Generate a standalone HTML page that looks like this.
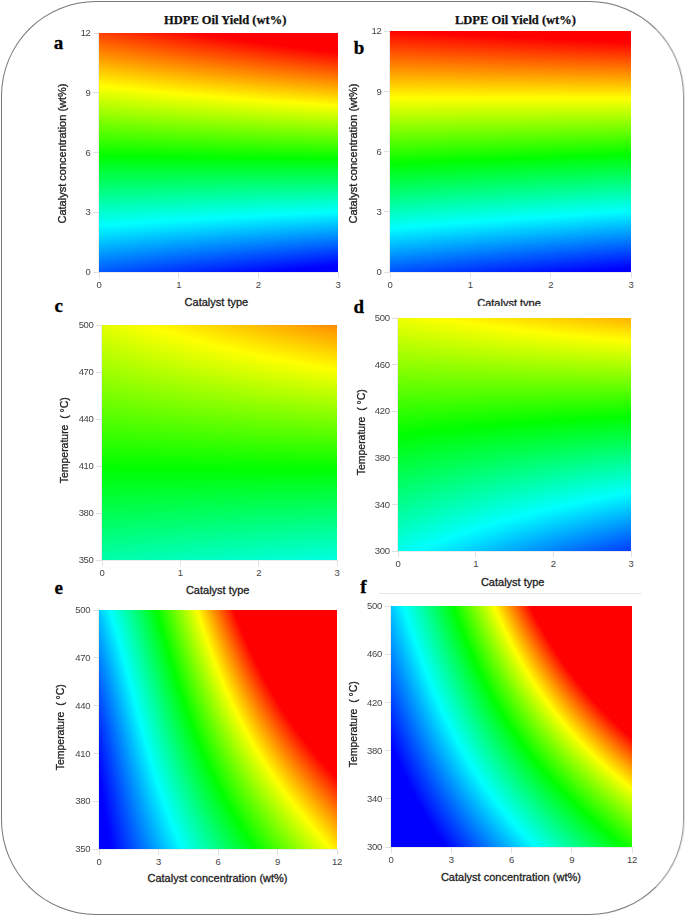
<!DOCTYPE html>
<html><head><meta charset="utf-8">
<style>
html,body{margin:0;padding:0;background:#fff;}
body{width:685px;height:916px;position:relative;overflow:hidden;font-family:"Liberation Sans",sans-serif;}
.frame{position:absolute;left:1px;top:1px;width:681px;height:912px;border:1px solid #777;border-right-color:#999;border-radius:95px;box-shadow:1px 0 0 #e0e0e0;}
.t{position:absolute;white-space:nowrap;line-height:1;}
.title{font-family:"Liberation Serif",serif;font-weight:bold;font-size:12.5px;color:#111;-webkit-text-stroke:0.25px #111;}
.lab{font-family:"Liberation Serif",serif;font-weight:bold;font-size:19px;color:#000;-webkit-text-stroke:0.3px #000;}
.tk{font-size:9.5px;color:#444;letter-spacing:-0.3px;}
.tr{text-align:right;width:30px;}
.tc{text-align:center;width:30px;}
.ax{font-size:11px;color:#222;-webkit-text-stroke:0.3px #222;}
.axc{text-align:center;width:200px;}
.rot{transform:rotate(-90deg);transform-origin:center center;}
.sq{display:inline-block;transform:scaleX(0.95);}
canvas{position:absolute;display:block;}
.ln{position:absolute;background:#e0e0e0;}
.al{position:absolute;background:#ebebeb;}
</style></head><body>
<div class="frame"></div>

<div class="t title" style="left:164px;top:13.5px">HDPE Oil Yield (wt%)</div>
<div class="t title" style="left:455px;top:13.5px">LDPE Oil Yield (wt%)</div>
<div class="t lab" style="left:53.8px;top:32.5px">a</div>
<div class="t lab" style="left:353.75px;top:37.8px">b</div>
<div class="t lab" style="left:54.4px;top:295.7px">c</div>
<div class="t lab" style="left:353.4px;top:296.5px">d</div>
<div class="t lab" style="left:54.5px;top:577.8px">e</div>
<div class="t lab" style="left:360.2px;top:577.3px">f</div>
<canvas id="pa" width="239" height="239" style="left:99px;top:33px;width:239px;height:239px;background:linear-gradient(1.0deg,#001dff 0.0%,#003eff 4.2%,#0068ff 8.3%,#0093ff 12.5%,#00beff 16.7%,#00e8ff 20.8%,#00ffeb 25.0%,#00ffc1 29.2%,#00ff96 33.3%,#00ff6b 37.5%,#00ff40 41.7%,#00ff16 45.8%,#15ff00 50.0%,#40ff00 54.2%,#6bff00 58.3%,#95ff00 62.5%,#c0ff00 66.7%,#ebff00 70.8%,#ffe800 75.0%,#ffbd00 79.2%,#ff9200 83.3%,#ff6700 87.5%,#ff3d00 91.7%,#ff1200 95.8%,#ff0000 100.0%)"></canvas>
<div class="al" style="left:98px;top:33px;width:1px;height:240px"></div>
<div class="al" style="left:98px;top:272px;width:240px;height:1px"></div>
<div class="ln" style="left:93px;top:271.5px;width:6px;height:1px"></div>
<div class="t tk tr" style="left:60.6px;top:267.2px">0</div>
<div class="ln" style="left:93px;top:211.8px;width:6px;height:1px"></div>
<div class="t tk tr" style="left:60.6px;top:207.4px">3</div>
<div class="ln" style="left:93px;top:152.0px;width:6px;height:1px"></div>
<div class="t tk tr" style="left:60.6px;top:147.7px">6</div>
<div class="ln" style="left:93px;top:92.2px;width:6px;height:1px"></div>
<div class="t tk tr" style="left:60.6px;top:88.0px">9</div>
<div class="ln" style="left:93px;top:32.5px;width:6px;height:1px"></div>
<div class="t tk tr" style="left:60.6px;top:28.2px">12</div>
<div class="ln" style="left:98.5px;top:272px;width:1px;height:6px"></div>
<div class="t tk tc" style="left:84.0px;top:280px">0</div>
<div class="ln" style="left:178.2px;top:272px;width:1px;height:6px"></div>
<div class="t tk tc" style="left:163.7px;top:280px">1</div>
<div class="ln" style="left:257.8px;top:272px;width:1px;height:6px"></div>
<div class="t tk tc" style="left:243.3px;top:280px">2</div>
<div class="ln" style="left:337.5px;top:272px;width:1px;height:6px"></div>
<div class="t tk tc" style="left:323.0px;top:280px">3</div>
<div class="t ax axc rot" style="left:-38.3px;top:148.0px">Catalyst concentration (wt%)</div>
<div class="t ax axc" style="left:116.4px;top:296.5px">Catalyst type</div>
<canvas id="pb" width="241" height="241" style="left:390px;top:31px;width:241px;height:241px;background:linear-gradient(-1.7deg,#001dff 0.0%,#003cff 4.2%,#0068ff 8.3%,#0093ff 12.5%,#00c0ff 16.7%,#00ebff 20.8%,#00ffe7 25.0%,#00ffbb 29.2%,#00ff8f 33.3%,#00ff63 37.5%,#00ff38 41.7%,#00ff0c 45.8%,#20ff00 50.0%,#4bff00 54.2%,#77ff00 58.3%,#a2ff00 62.5%,#cdff00 66.7%,#f8ff00 70.8%,#ffda00 75.0%,#ffaf00 79.2%,#ff8400 83.3%,#ff5900 87.5%,#ff2e00 91.7%,#ff0300 95.8%,#ff0000 100.0%)"></canvas>
<div class="al" style="left:389px;top:31px;width:1px;height:242px"></div>
<div class="al" style="left:389px;top:272px;width:242px;height:1px"></div>
<div class="ln" style="left:384px;top:271.5px;width:6px;height:1px"></div>
<div class="t tk tr" style="left:351.4px;top:267.2px">0</div>
<div class="ln" style="left:384px;top:211.2px;width:6px;height:1px"></div>
<div class="t tk tr" style="left:351.4px;top:206.9px">3</div>
<div class="ln" style="left:384px;top:151.0px;width:6px;height:1px"></div>
<div class="t tk tr" style="left:351.4px;top:146.7px">6</div>
<div class="ln" style="left:384px;top:90.8px;width:6px;height:1px"></div>
<div class="t tk tr" style="left:351.4px;top:86.5px">9</div>
<div class="ln" style="left:384px;top:30.5px;width:6px;height:1px"></div>
<div class="t tk tr" style="left:351.4px;top:26.2px">12</div>
<div class="ln" style="left:389.5px;top:272px;width:1px;height:6px"></div>
<div class="t tk tc" style="left:375.0px;top:280px">0</div>
<div class="ln" style="left:469.8px;top:272px;width:1px;height:6px"></div>
<div class="t tk tc" style="left:455.3px;top:280px">1</div>
<div class="ln" style="left:550.2px;top:272px;width:1px;height:6px"></div>
<div class="t tk tc" style="left:535.7px;top:280px">2</div>
<div class="ln" style="left:630.5px;top:272px;width:1px;height:6px"></div>
<div class="t tk tc" style="left:616.0px;top:280px">3</div>
<div class="t ax axc rot" style="left:253.3px;top:148.1px">Catalyst concentration (wt%)</div>
<div style="position:absolute;left:409.0px;top:297.0px;width:200px;height:8.8px;overflow:hidden"><div class="t ax axc" style="left:0;top:1px">Catalyst type</div></div>
<canvas id="pc" width="235" height="235" style="left:102px;top:325px;width:235px;height:235px;background:linear-gradient(3.6deg,#00ffc5 0.0%,#00ffb4 4.2%,#00ffa9 8.3%,#00ff93 12.5%,#00ff7b 16.7%,#00ff65 20.8%,#00ff4f 25.0%,#00ff38 29.2%,#00ff22 33.3%,#00ff0c 37.5%,#0aff00 41.7%,#20ff00 45.8%,#37ff00 50.0%,#4cff00 54.2%,#62ff00 58.3%,#78ff00 62.5%,#8eff00 66.7%,#a3ff00 70.8%,#b9ff00 75.0%,#cfff00 79.2%,#e5ff00 83.3%,#f9ff00 87.5%,#ffef00 91.7%,#ffcb00 95.8%,#ffce00 100.0%)"></canvas>
<div class="al" style="left:101px;top:325px;width:1px;height:236px"></div>
<div class="al" style="left:101px;top:560px;width:236px;height:1px"></div>
<div class="ln" style="left:96px;top:559.5px;width:6px;height:1px"></div>
<div class="t tk tr" style="left:63.6px;top:555.2px">350</div>
<div class="ln" style="left:96px;top:512.5px;width:6px;height:1px"></div>
<div class="t tk tr" style="left:63.6px;top:508.2px">380</div>
<div class="ln" style="left:96px;top:465.5px;width:6px;height:1px"></div>
<div class="t tk tr" style="left:63.6px;top:461.2px">410</div>
<div class="ln" style="left:96px;top:418.5px;width:6px;height:1px"></div>
<div class="t tk tr" style="left:63.6px;top:414.2px">440</div>
<div class="ln" style="left:96px;top:371.5px;width:6px;height:1px"></div>
<div class="t tk tr" style="left:63.6px;top:367.2px">470</div>
<div class="ln" style="left:96px;top:324.5px;width:6px;height:1px"></div>
<div class="t tk tr" style="left:63.6px;top:320.2px">500</div>
<div class="ln" style="left:101.5px;top:560px;width:1px;height:6px"></div>
<div class="t tk tc" style="left:87.0px;top:568px">0</div>
<div class="ln" style="left:179.8px;top:560px;width:1px;height:6px"></div>
<div class="t tk tc" style="left:165.3px;top:568px">1</div>
<div class="ln" style="left:258.2px;top:560px;width:1px;height:6px"></div>
<div class="t tk tc" style="left:243.7px;top:568px">2</div>
<div class="ln" style="left:336.5px;top:560px;width:1px;height:6px"></div>
<div class="t tk tc" style="left:322.0px;top:568px">3</div>
<div class="t ax axc rot" style="left:-35.8px;top:435.0px"><span class="sq">Temperature&nbsp;&nbsp;( °C)</span></div>
<div class="t ax axc" style="left:117.7px;top:585.1px">Catalyst type</div>
<canvas id="pd" width="233" height="233" style="left:398px;top:318px;width:233px;height:233px;background:linear-gradient(-5.5deg,#009bff 0.0%,#007eff 4.2%,#00c1ff 8.3%,#00e0ff 12.5%,#00fcff 16.7%,#00ffe4 20.8%,#00ffc7 25.0%,#00ffaa 29.2%,#00ff8d 33.3%,#00ff71 37.5%,#00ff54 41.7%,#00ff37 45.8%,#00ff1b 50.0%,#02ff00 54.2%,#1fff00 58.3%,#3cff00 62.5%,#59ff00 66.7%,#76ff00 70.8%,#92ff00 75.0%,#afff00 79.2%,#cbff00 83.3%,#e9ff00 87.5%,#fffb00 91.7%,#f9ff00 95.8%,#ffe500 100.0%)"></canvas>
<div class="al" style="left:397px;top:318px;width:1px;height:234px"></div>
<div class="al" style="left:397px;top:551px;width:234px;height:1px"></div>
<div class="ln" style="left:392px;top:550.5px;width:6px;height:1px"></div>
<div class="t tk tr" style="left:359.8px;top:546.2px">300</div>
<div class="ln" style="left:392px;top:503.9px;width:6px;height:1px"></div>
<div class="t tk tr" style="left:359.8px;top:499.6px">340</div>
<div class="ln" style="left:392px;top:457.3px;width:6px;height:1px"></div>
<div class="t tk tr" style="left:359.8px;top:453.0px">380</div>
<div class="ln" style="left:392px;top:410.7px;width:6px;height:1px"></div>
<div class="t tk tr" style="left:359.8px;top:406.4px">420</div>
<div class="ln" style="left:392px;top:364.1px;width:6px;height:1px"></div>
<div class="t tk tr" style="left:359.8px;top:359.8px">460</div>
<div class="ln" style="left:392px;top:317.5px;width:6px;height:1px"></div>
<div class="t tk tr" style="left:359.8px;top:313.2px">500</div>
<div class="ln" style="left:397.5px;top:551px;width:1px;height:6px"></div>
<div class="t tk tc" style="left:383.0px;top:559px">0</div>
<div class="ln" style="left:475.2px;top:551px;width:1px;height:6px"></div>
<div class="t tk tc" style="left:460.7px;top:559px">1</div>
<div class="ln" style="left:552.8px;top:551px;width:1px;height:6px"></div>
<div class="t tk tc" style="left:538.3px;top:559px">2</div>
<div class="ln" style="left:630.5px;top:551px;width:1px;height:6px"></div>
<div class="t tk tc" style="left:616.0px;top:559px">3</div>
<div class="t ax axc rot" style="left:261.0px;top:426.8px"><span class="sq">Temperature&nbsp;&nbsp;( °C)</span></div>
<div class="t ax axc" style="left:412.7px;top:576.6px">Catalyst type</div>
<canvas id="pe" width="238" height="239" style="left:99px;top:610px;width:238px;height:239px;background:linear-gradient(67.1deg,#0000ff 0.0%,#0000ff 4.2%,#001eff 8.3%,#0049ff 12.5%,#0074ff 16.7%,#00a5ff 20.8%,#00d9ff 25.0%,#00ffef 29.2%,#00ffaf 33.3%,#00ff6b 37.5%,#00ff29 41.7%,#1dff00 45.8%,#62ff00 50.0%,#a7ff00 54.2%,#ecff00 58.3%,#ffc900 62.5%,#ff8400 66.7%,#ff3700 70.8%,#ff0000 75.0%,#ff0000 79.2%,#ff0000 83.3%,#ff0000 87.5%,#ff0000 91.7%,#ff0000 95.8%,#ff0000 100.0%)"></canvas>
<div class="al" style="left:98px;top:610px;width:1px;height:240px"></div>
<div class="al" style="left:98px;top:849px;width:239px;height:1px"></div>
<div class="ln" style="left:93px;top:848.5px;width:6px;height:1px"></div>
<div class="t tk tr" style="left:60.3px;top:844.2px">350</div>
<div class="ln" style="left:93px;top:800.7px;width:6px;height:1px"></div>
<div class="t tk tr" style="left:60.3px;top:796.4px">380</div>
<div class="ln" style="left:93px;top:752.9px;width:6px;height:1px"></div>
<div class="t tk tr" style="left:60.3px;top:748.6px">410</div>
<div class="ln" style="left:93px;top:705.1px;width:6px;height:1px"></div>
<div class="t tk tr" style="left:60.3px;top:700.8px">440</div>
<div class="ln" style="left:93px;top:657.3px;width:6px;height:1px"></div>
<div class="t tk tr" style="left:60.3px;top:653.0px">470</div>
<div class="ln" style="left:93px;top:609.5px;width:6px;height:1px"></div>
<div class="t tk tr" style="left:60.3px;top:605.2px">500</div>
<div class="ln" style="left:98.5px;top:849px;width:1px;height:6px"></div>
<div class="t tk tc" style="left:84.0px;top:857px">0</div>
<div class="ln" style="left:158.0px;top:849px;width:1px;height:6px"></div>
<div class="t tk tc" style="left:143.5px;top:857px">3</div>
<div class="ln" style="left:217.5px;top:849px;width:1px;height:6px"></div>
<div class="t tk tc" style="left:203.0px;top:857px">6</div>
<div class="ln" style="left:277.0px;top:849px;width:1px;height:6px"></div>
<div class="t tk tc" style="left:262.5px;top:857px">9</div>
<div class="ln" style="left:336.5px;top:849px;width:1px;height:6px"></div>
<div class="t tk tc" style="left:322.0px;top:857px">12</div>
<div class="t ax axc rot" style="left:-40.2px;top:722.4px"><span class="sq">Temperature&nbsp;&nbsp;( °C)</span></div>
<div class="t ax axc" style="left:117.5px;top:873.1px">Catalyst concentration (wt%)</div>
<canvas id="pf" width="241" height="241" style="left:391px;top:606px;width:241px;height:241px;background:linear-gradient(56.9deg,#0000ff 0.0%,#0000ff 4.2%,#0000ff 8.3%,#0000ff 12.5%,#0019ff 16.7%,#004aff 20.8%,#007aff 25.0%,#00aeff 29.2%,#00e0ff 33.3%,#00ffe7 37.5%,#00ffac 41.7%,#00ff68 45.8%,#00ff23 50.0%,#26ff00 54.2%,#70ff00 58.3%,#c6ff00 62.5%,#ffda00 66.7%,#ff6f00 70.8%,#ff0100 75.0%,#ff0000 79.2%,#ff0000 83.3%,#ff0000 87.5%,#ff0000 91.7%,#ff0000 95.8%,#ff0000 100.0%)"></canvas>
<div class="al" style="left:390px;top:606px;width:1px;height:242px"></div>
<div class="al" style="left:390px;top:847px;width:242px;height:1px"></div>
<div class="ln" style="left:385px;top:846.5px;width:6px;height:1px"></div>
<div class="t tk tr" style="left:352.0px;top:842.2px">300</div>
<div class="ln" style="left:385px;top:798.3px;width:6px;height:1px"></div>
<div class="t tk tr" style="left:352.0px;top:794.0px">340</div>
<div class="ln" style="left:385px;top:750.1px;width:6px;height:1px"></div>
<div class="t tk tr" style="left:352.0px;top:745.8px">380</div>
<div class="ln" style="left:385px;top:701.9px;width:6px;height:1px"></div>
<div class="t tk tr" style="left:352.0px;top:697.6px">420</div>
<div class="ln" style="left:385px;top:653.7px;width:6px;height:1px"></div>
<div class="t tk tr" style="left:352.0px;top:649.4px">460</div>
<div class="ln" style="left:385px;top:605.5px;width:6px;height:1px"></div>
<div class="t tk tr" style="left:352.0px;top:601.2px">500</div>
<div class="ln" style="left:390.5px;top:847px;width:1px;height:6px"></div>
<div class="t tk tc" style="left:376.0px;top:855px">0</div>
<div class="ln" style="left:450.8px;top:847px;width:1px;height:6px"></div>
<div class="t tk tc" style="left:436.2px;top:855px">3</div>
<div class="ln" style="left:511.0px;top:847px;width:1px;height:6px"></div>
<div class="t tk tc" style="left:496.5px;top:855px">6</div>
<div class="ln" style="left:571.2px;top:847px;width:1px;height:6px"></div>
<div class="t tk tc" style="left:556.8px;top:855px">9</div>
<div class="ln" style="left:631.5px;top:847px;width:1px;height:6px"></div>
<div class="t tk tc" style="left:617.0px;top:855px">12</div>
<div class="t ax axc rot" style="left:253.0px;top:718.8px"><span class="sq">Temperature&nbsp;&nbsp;( °C)</span></div>
<div class="t ax axc" style="left:410.9px;top:872.4px">Catalyst concentration (wt%)</div>
<div class="ln" style="left:379px;top:593px;width:262px;height:1px;background:#e4e4e4"></div>
<script>
function cmap(v){
  if(v<0)v=0;if(v>1)v=1;
  var r,g,b;
  if(v<0.25){r=0;g=v/0.25;b=1;}
  else if(v<0.5){r=0;g=1;b=1-(v-0.25)/0.25;}
  else if(v<0.75){r=(v-0.5)/0.25;g=1;b=0;}
  else {r=1;g=1-(v-0.75)/0.25;b=0;}
  return [Math.round(r*255),Math.round(g*255),Math.round(b*255)];
}
var P={"pa": [0.0854, 0.8532, 0, -0.1167, 0.2695, 0, 0, 0, 0], "pb": [0.0787, 0.9553, -0.0362, -0.0968, 0.1037, 0.0466, 0, 0, 0], "pc": [0.3324, 0.4519, -0.0617, -0.0539, 0.1126, 0.0829, 0, 0, 0], "pd": [0.2678, 0.4669, 0, -0.2105, 0.302, 0, 0, 0, 0], "pe": [-0.0423, 0.0909, 0.1487, 0.8455, 0.9472, -0.6607, -0.0324, -0.3887, 0.9261], "pf": [-0.1518, 0.3646, -0.0164, 0.6617, 0.5333, -0.1895, 0.0132, -0.0911, 0.7529]};
for(var id in P){
  var c=P[id],cv=document.getElementById(id),ctx=cv.getContext('2d');
  var W=cv.width,H=cv.height,im=ctx.createImageData(W,H),d=im.data;
  for(var y=0;y<H;y++){var t=1-(y+0.5)/H;
    for(var x=0;x<W;x++){var s=(x+0.5)/W;
      var t2=t*t,s2=s*s;var v=c[0]+c[1]*t+c[2]*t2+s*(c[3]+c[4]*t+c[5]*t2)+s2*(c[6]+c[7]*t+c[8]*t2);
      var col=cmap(v),k=(y*W+x)*4;
      d[k]=col[0];d[k+1]=col[1];d[k+2]=col[2];d[k+3]=255;}}
  ctx.putImageData(im,0,0);
}
</script>
</body></html>
